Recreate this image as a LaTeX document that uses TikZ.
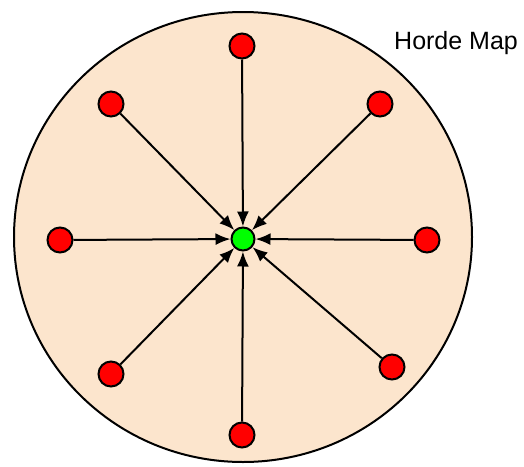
\documentclass[tikz,border=0pt]{standalone}
\usepackage{fontspec}
\setmainfont{Liberation Sans}
\usetikzlibrary{arrows.meta}
\definecolor{peach}{HTML}{FCE5CD}
\begin{document}
\begin{tikzpicture}[x=1pt,y=-1pt,
  dot/.style={circle,draw=black,line width=2pt,minimum size=25pt,inner sep=0pt},
  reddot/.style={dot,fill=red},
  greendot/.style={dot,fill=green,minimum size=23pt},
  conn/.style={line width=2pt,-{Latex[length=15pt,width=12pt]}}]
\useasboundingbox (0,0) rectangle (524,466);
\draw[fill=peach,line width=2pt] (243,237) ellipse [x radius=229, y radius=225];
\node[greendot] (c) at (243,239) {};
\node[reddot] (n) at (242,46) {};
\node[reddot] (s) at (242,435) {};
\node[reddot] (w) at (60,240) {};
\node[reddot] (e) at (427,240) {};
\node[reddot] (nw) at (111,104) {};
\node[reddot] (ne) at (380,104) {};
\node[reddot] (sw) at (111,374) {};
\node[reddot] (se) at (392,367) {};
\foreach \p in {n,s,w,e,nw,ne,sw,se} \draw[conn] (\p) -- (c);
\node[anchor=base west,inner sep=0pt,font=\fontsize{25}{30}\selectfont] (t) at (394,49) {Horde Map};
\end{tikzpicture}
\end{document}
